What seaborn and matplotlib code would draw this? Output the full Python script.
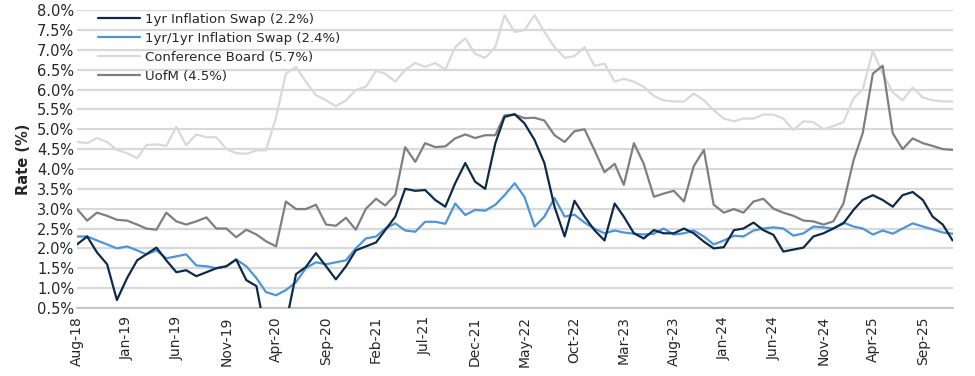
import pandas as pd
import matplotlib.pyplot as plt
import matplotlib.ticker as mticker
import seaborn as sns

months = pd.date_range("2018-08-01", "2025-12-01", freq="MS")

swap_1yr = [2.1, 2.3, 1.9, 1.6, 0.7, 1.25, 1.7, 1.85, 2.02, 1.7,
            1.4, 1.45, 1.3, 1.4, 1.5, 1.55, 1.72, 1.2, 1.05, -0.2,
            -0.8, 0.1, 1.35, 1.53, 1.88, 1.55, 1.22, 1.55, 1.95, 2.05,
            2.15, 2.46, 2.8, 3.5, 3.45, 3.47, 3.22, 3.05, 3.64, 4.15,
            3.68, 3.5, 4.65, 5.31, 5.38, 5.15, 4.73, 4.15, 3.05, 2.3,
            3.2, 2.8, 2.46, 2.2, 3.13, 2.8, 2.38, 2.25, 2.46, 2.38,
            2.38, 2.5, 2.38, 2.17, 2.0, 2.03, 2.46, 2.5, 2.65, 2.46,
            2.34, 1.92, 1.97, 2.02, 2.3, 2.38, 2.5, 2.63, 2.97, 3.22,
            3.34, 3.22, 3.05, 3.34, 3.42, 3.22, 2.8, 2.6, 2.2]

swap_1yr1yr = [2.3, 2.3, 2.2, 2.1, 2.0, 2.05, 1.95, 1.85, 1.95, 1.75,
               1.8, 1.85, 1.57, 1.55, 1.5, 1.55, 1.72, 1.55, 1.25, 0.9,
               0.82, 0.95, 1.15, 1.5, 1.65, 1.6, 1.65, 1.7, 2.0, 2.25,
               2.3, 2.5, 2.63, 2.45, 2.42, 2.67, 2.67, 2.62, 3.13, 2.84,
               2.97, 2.95, 3.1, 3.34, 3.64, 3.3, 2.55, 2.8, 3.27, 2.8,
               2.85, 2.65, 2.5, 2.38, 2.45, 2.4, 2.37, 2.35, 2.37, 2.5,
               2.35, 2.38, 2.45, 2.3, 2.1, 2.2, 2.32, 2.3, 2.45, 2.5,
               2.53, 2.5, 2.32, 2.38, 2.55, 2.53, 2.5, 2.65, 2.55, 2.5,
               2.35, 2.45, 2.37, 2.5, 2.63, 2.55, 2.48, 2.4, 2.37]

conf_board = [4.68, 4.65, 4.78, 4.68, 4.48, 4.4, 4.27, 4.6, 4.62, 4.58,
              5.06, 4.6, 4.87, 4.8, 4.8, 4.5, 4.4, 4.38, 4.47, 4.47,
              5.3, 6.4, 6.57, 6.2, 5.86, 5.73, 5.58, 5.73, 5.99, 6.07,
              6.47, 6.4, 6.2, 6.5, 6.67, 6.57, 6.67, 6.5, 7.07, 7.29,
              6.9, 6.8, 7.07, 7.87, 7.45, 7.5, 7.87, 7.45, 7.07, 6.8,
              6.84, 7.07, 6.6, 6.65, 6.2, 6.27, 6.2, 6.07, 5.84, 5.73,
              5.7, 5.7, 5.9, 5.73, 5.48, 5.27, 5.2, 5.27, 5.27, 5.37,
              5.37, 5.27, 4.98, 5.2, 5.18, 5.0, 5.08, 5.18, 5.78, 6.0,
              6.97, 6.4, 5.93, 5.73, 6.05, 5.8, 5.73, 5.7, 5.7]

uofm = [2.99, 2.7, 2.9, 2.82, 2.72, 2.7, 2.6, 2.5, 2.47, 2.9,
        2.68, 2.6, 2.68, 2.78, 2.5, 2.5, 2.28, 2.47, 2.35, 2.18,
        2.05, 3.18, 2.99, 2.99, 3.1, 2.6, 2.57, 2.77, 2.47, 3.0,
        3.25, 3.08, 3.35, 4.55, 4.18, 4.65, 4.55, 4.57, 4.77, 4.87,
        4.78, 4.85, 4.85, 5.35, 5.37, 5.28, 5.29, 5.22, 4.85, 4.68,
        4.95, 5.0, 4.48, 3.92, 4.13, 3.6, 4.65, 4.13, 3.3, 3.38,
        3.45, 3.18, 4.07, 4.48, 3.1, 2.9, 2.99, 2.9, 3.18, 3.25,
        3.0, 2.9, 2.82, 2.7, 2.68, 2.6, 2.68, 3.13, 4.22, 4.9,
        6.4, 6.6, 4.9, 4.5, 4.77, 4.65, 4.58, 4.5, 4.48]

series_names = ["1yr Inflation Swap (2.2%)", "1yr/1yr Inflation Swap (2.4%)",
                "Conference Board (5.7%)", "UofM (4.5%)"]
colors = ["#0e2a4a", "#4d94db", "#d9d9d9", "#7f7f7f"]

df = pd.concat([
    pd.DataFrame({"date": months, "rate": vals, "series": name})
    for name, vals in zip(series_names, [swap_1yr, swap_1yr1yr, conf_board, uofm])
])

sns.set_style("white")
plt.rcParams["font.family"] = ["DejaVu Sans"]

fig, ax = plt.subplots(figsize=(9.75, 3.76), dpi=100)
fig.subplots_adjust(left=0.079, right=0.977, top=0.973, bottom=0.181)

# draw gray ones first so the swaps sit on top
order = [2, 3, 1, 0]
for i in order:
    sub = df[df["series"] == series_names[i]]
    sns.lineplot(data=sub, x="date", y="rate", color=colors[i], lw=1.6,
                 ax=ax, label=series_names[i], zorder=3 + (i < 2))

ax.set_ylim(0.5, 8.0)
ax.set_xlim(months[0], months[-1])
ax.yaxis.set_major_locator(mticker.MultipleLocator(0.5))
ax.yaxis.set_major_formatter(mticker.FuncFormatter(lambda v, p: f"{v:.1f}%"))
ax.grid(axis="y", color="#d9d9d9", lw=1.6, zorder=0)
ax.set_axisbelow(True)

tick_dates = months[::5]
ax.set_xticks(tick_dates)
ax.set_xticklabels([d.strftime("%b-%y") for d in tick_dates], rotation=90)
ax.tick_params(axis="x", length=4, color="#bfbfbf", labelsize=10, pad=2)
ax.tick_params(axis="y", length=0, labelsize=10.5, pad=2)

for s in ["top", "right", "left"]:
    ax.spines[s].set_visible(False)
ax.spines["bottom"].set_color("#bfbfbf")
ax.spines["bottom"].set_linewidth(1.2)

ax.set_xlabel("")
ax.set_ylabel("Rate (%)", fontweight="bold", fontsize=10.5, labelpad=4)

handles, labels = ax.get_legend_handles_labels()
hmap = dict(zip(labels, handles))
ax.legend([hmap[n] for n in series_names], series_names, loc="upper left",
          bbox_to_anchor=(0.01, 1.03), frameon=False, fontsize=9.5,
          handlelength=3.2, handletextpad=0.4, labelspacing=0.45)

fig.savefig("out.png", dpi=100)
